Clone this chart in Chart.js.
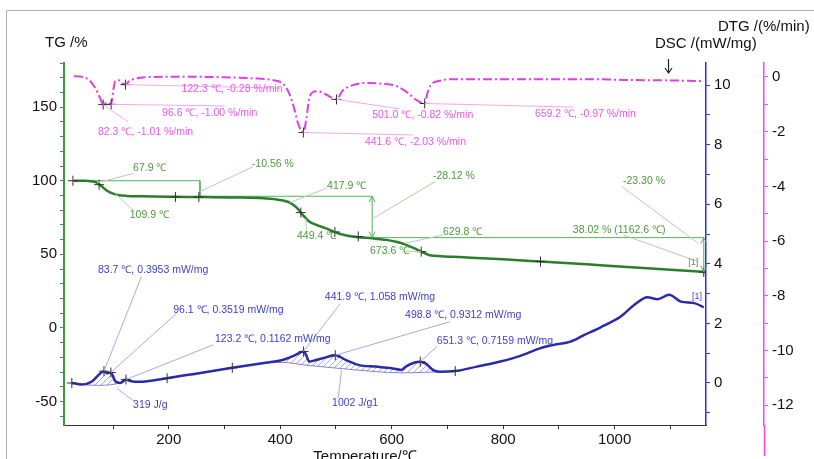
<!DOCTYPE html>
<html><head><meta charset="utf-8">
<script src="https://cdn.jsdelivr.net/npm/chart.js@4/dist/chart.umd.min.js"></script>
<style>html,body{margin:0;padding:0;background:#fff;}#wrap{width:814px;height:459px;position:relative;}</style>
</head><body><div id="wrap"><canvas id="c" width="814" height="459"></canvas></div>
<script>
// ---------- data ----------
const xTickLabels = [200, 400, 600, 800, 1000];
const tgTickLabels = [-50, 0, 50, 100, 150];
const dscTickLabels = [0, 2, 4, 6, 8, 10];
const dtgTickLabels = [0, -2, -4, -6, -8, -10, -12];

// DTG (%/min)
const dtgTemp = [30,44,56,68,77,82.3,89,96.6,100,104,110,116,122.3,128,140,160,206,296,360,386,405,416,425,432,441.6,447,452,458,467,482,501,512,530,554,584,608,629,644,659.2,664,670,686,717,837,957,1017,1077,1160];
const dtgRate = [0.03,0.01,-0.1,-0.4,-0.78,-1.01,-0.93,-1.00,-0.55,-0.15,-0.12,-0.22,-0.28,-0.17,-0.06,-0.01,0.01,-0.01,-0.06,-0.11,-0.25,-0.6,-1.15,-1.7,-2.03,-1.5,-0.8,-0.56,-0.52,-0.64,-0.82,-0.5,-0.3,-0.22,-0.25,-0.33,-0.58,-0.84,-0.97,-0.6,-0.3,-0.14,-0.08,-0.08,-0.08,-0.11,-0.12,-0.15];

// TG (%)
const tgTemp = [30,50,62,70,80,90,100,110,125,150,200,260,330,370,390,405,418,430,440,452,465,482,506,536,565,590,610,625,640,653,668,690,722,800,867,950,1023,1100,1162.6];
const tgMass = [100,99.9,99.5,98.8,96.0,93.0,91.2,90.2,89.7,89.4,89.1,88.9,88.6,88.1,87.5,86.6,85.0,81.5,77.0,72.3,70.0,67.6,64.0,61.8,60.9,59.8,58.3,56.6,54.2,51.8,49.4,48.7,48.1,46.6,45.1,43.2,41.3,39.5,38.02];

// DSC (mW/mg)
const dscTemp = [26,44,62,77,83.7,90,96.1,104,113,123.2,131,146,197,254,314,374,404,425,441.9,446,452,464,482,498.8,518,542,572,602,617,626,640,651.3,662,674,686,714,753,795,831,867,891,921,945,975,1011,1035,1059,1077,1098,1119,1143,1160];
const dscVal = [0.0,-0.05,0.05,0.32,0.3953,0.33,0.352,0.06,0.0,0.116,0.07,0.04,0.16,0.33,0.51,0.68,0.77,0.92,1.058,0.96,0.72,0.77,0.86,0.931,0.77,0.6,0.55,0.49,0.44,0.56,0.68,0.716,0.64,0.44,0.38,0.4,0.55,0.72,0.91,1.17,1.28,1.39,1.61,1.87,2.23,2.62,2.88,2.81,2.96,2.73,2.68,2.54];

// DSC integration baselines
const base1Temp = [26,50,75,95,110,123];
const base1Val = [0.0,-0.06,-0.08,-0.06,-0.01,0.08];
const base2Temp = [374,404,446,506,572,620,662,690,714];
const base2Val = [0.68,0.69,0.6,0.49,0.38,0.34,0.36,0.37,0.4];

// TG step evaluation
const tgStepTemp = [28,256,256,565];
const tgStepMass = [100,100,89.44,89.44];
const tgStep2Temp = [565,1160];
const tgStep2Mass = [61.32,61.32];

// evaluation markers
const dtgMarkT = [82.3,96.6,122.3,441.6,501.0,659.2];
const dtgMarkV = [-1.01,-1.00,-0.28,-2.03,-0.82,-0.97];
const tgMarkT = [28,75,212,254,437,498,540,653,867,1160];
const tgMarkV = [100,97.3,89.0,88.9,78.3,65.2,62.1,51.8,45.1,38.02];
const dscMarkT = [26,83.7,96.1,123.2,197,314,441.9,498.8,651.3,714];
const dscMarkV = [0.0,0.3953,0.352,0.116,0.16,0.51,1.058,0.931,0.716,0.4];

// ---------- annotation layout (data coords of the relevant axis) ----------
const annotations = [
  {axis:'yDTG', kind:'dtg', text:'122.3 ℃, -0.28 %/min', pt:[122.3,-0.28], lead:[400,-0.41], txt:[223,-0.45]},
  {axis:'yDTG', kind:'dtg', text:'96.6 ℃, -1.00 %/min', pt:[96.6,-1.00], lead:[300,-1.06], txt:[188,-1.32]},
  {axis:'yDTG', kind:'dtg', text:'82.3 ℃, -1.01 %/min', pt:[82.3,-1.01], lead:[127,-1.64], txt:[73,-2.01]},
  {axis:'yDTG', kind:'dtg', text:'441.6 ℃, -2.03 %/min', pt:[441.6,-2.03], lead:[638,-2.12], txt:[552,-2.38]},
  {axis:'yDTG', kind:'dtg', text:'501.0 ℃, -0.82 %/min', pt:[501.0,-0.82], lead:[615,-1.17], txt:[565,-1.39]},
  {axis:'yDTG', kind:'dtg', text:'659.2 ℃, -0.97 %/min', pt:[659.2,-0.97], lead:[925,-1.10], txt:[857,-1.35]},
  {axis:'yTG', kind:'tg', text:'67.9 ℃', pt:[72,98.5], lead:[136,105], txt:[136,108.5]},
  {axis:'yTG', kind:'tg', text:'-10.56 %', pt:[256,92.6], lead:[351,109.5], txt:[349,111.4]},
  {axis:'yTG', kind:'tg', text:'109.9 ℃', pt:[104,91.3], lead:[136,80], txt:[130,76.7]},
  {axis:'yTG', kind:'tg', text:'417.9 ℃', pt:[417.5,85.2], lead:[483,94.9], txt:[484,96.4]},
  {axis:'yTG', kind:'tg', text:'449.4 ℃', pt:[446,74.5], lead:[447,65.4], txt:[430,62.4]},
  {axis:'yTG', kind:'tg', text:'-28.12 %', pt:[567,74.5], lead:[678,99.4], txt:[674,103.2]},
  {axis:'yTG', kind:'tg', text:'629.8 ℃', pt:[624,57.5], lead:[692,63.1], txt:[692,65.4]},
  {axis:'yTG', kind:'tg', text:'673.6 ℃', pt:[653,51.8], lead:[622,52.2], txt:[561,52.5]},
  {axis:'yTG', kind:'tg', text:'-23.30 %', pt:[1150,57.5], lead:[1013,96], txt:[1015,100]},
  {axis:'yTG', kind:'tg', text:'38.02 % (1162.6 ℃)', pt:[1150,45], lead:[1016,63.1], txt:[925,66.1]},
  {axis:'yDSC', kind:'dsc', text:'83.7 ℃, 0.3953 mW/mg', pt:[83.7,0.3953], lead:[151,3.57], txt:[73,3.79]},
  {axis:'yDSC', kind:'dsc', text:'96.1 ℃, 0.3519 mW/mg', pt:[96.1,0.352], lead:[214,2.34], txt:[208,2.45]},
  {axis:'yDSC', kind:'dsc', text:'123.2 ℃, 0.1162 mW/mg', pt:[123.2,0.116], lead:[280,1.28], txt:[283,1.47]},
  {axis:'yDSC', kind:'dsc', text:'441.9 ℃, 1.058 mW/mg', pt:[441.9,1.058], lead:[507,2.65], txt:[480,2.89]},
  {axis:'yDSC', kind:'dsc', text:'498.8 ℃, 0.9312 mW/mg', pt:[498.8,0.931], lead:[705,2.06], txt:[624,2.28]},
  {axis:'yDSC', kind:'dsc', text:'651.3 ℃, 0.7159 mW/mg', pt:[651.3,0.716], lead:[681,1.22], txt:[681,1.39]},
  {axis:'yDSC', kind:'dsc', text:'319 J/g', pt:[107,-0.18], lead:[139,-0.63], txt:[136,-0.74]},
  {axis:'yDSC', kind:'dsc', text:'1002 J/g1', pt:[510,0.44], lead:[504,-0.51], txt:[493,-0.66]}
];
const smallLabels = [
  {axis:'yTG', kind:'tg', text:'[1]', txt:[1132,44.1]},
  {axis:'yDSC', kind:'dsc', text:'[1]', txt:[1139,2.89]}
];
const tgArrows = [[565,89.44,61.32],[1160,61.32,38.02]];

// ---------- styles ----------
const C = {
  dtg:'#e23fe2', tg:'#2c7d2c', dsc:'#2a2aaa',
  dtgText:'#ee55ee', tgText:'#4c9a3c', dscText:'#3d3dd2',
  dtgLead:'#f2a8f2', tgLead:'#b5cdb0', dscLead:'#a9a9e6',
  axG:'#3a9a3a', axB:'#2a2aff', axP:'#ff3cff'
};
const FONT = '"Liberation Sans", Arial, sans-serif';
function hasFont(name){
  const c=document.createElement('canvas').getContext('2d');
  c.font='40px monospace'; const w1=c.measureText('abcdefghijk 0123').width;
  c.font='40px "'+name+'", monospace'; return Math.abs(c.measureText('abcdefghijk 0123').width-w1)>0.5;
}
const ANNO_FONT = hasFont('Liberation Sans Narrow') ? '12px "Liberation Sans Narrow"' : '10.5px "Liberation Sans"';

const zip = (xs, ys) => xs.map((x,i)=>({x, y:ys[i]}));

const canvas = document.getElementById('c');
const cctx = canvas.getContext('2d');
const pc = document.createElement('canvas'); pc.width=6; pc.height=6;
const pctx = pc.getContext('2d');
pctx.strokeStyle='rgba(70,70,210,0.6)'; pctx.lineWidth=0.8;
pctx.beginPath(); pctx.moveTo(0,6); pctx.lineTo(6,0); pctx.moveTo(-1,1); pctx.lineTo(1,-1); pctx.moveTo(5,7); pctx.lineTo(7,5); pctx.stroke();
const hatch = cctx.createPattern(pc,'repeat');

function lineDs(data, axis, color, width, extra){
  return Object.assign({type:'line', data, yAxisID:axis, borderColor:color, borderWidth:width,
    pointRadius:0, fill:false, cubicInterpolationMode:'monotone'}, extra||{});
}
function markDs(data, axis){
  return {type:'line', data, yAxisID:axis, showLine:false, pointStyle:'cross', pointRadius:5,
    pointBorderColor:'#333', pointBorderWidth:1, borderColor:'#333', order:-1};
}

const deco = {
  id:'deco',
  afterDatasetsDraw(chart){
    const ctx = chart.ctx, xs = chart.scales.x;
    ctx.save();
    const yt = chart.scales.yTG;
    ctx.strokeStyle = '#58b058'; ctx.lineWidth=1;
    for (const [t,a,b] of tgArrows){
      const x = xs.getPixelForValue(t), y1=yt.getPixelForValue(a), y2=yt.getPixelForValue(b);
      ctx.beginPath(); ctx.moveTo(x,y1); ctx.lineTo(x,y2); ctx.stroke();
      for (const [yy,dir] of [[y1,1],[y2,-1]]){
        ctx.beginPath(); ctx.moveTo(x-3,yy+dir*6); ctx.lineTo(x,yy); ctx.lineTo(x+3,yy+dir*6); ctx.stroke();
      }
    }
    for (const a of annotations){
      const ys = chart.scales[a.axis];
      const px=xs.getPixelForValue(a.pt[0]), py=ys.getPixelForValue(a.pt[1]);
      const lx=xs.getPixelForValue(a.lead[0]), ly=ys.getPixelForValue(a.lead[1]);
      ctx.strokeStyle = C[a.kind+'Lead']; ctx.lineWidth=1;
      ctx.beginPath(); ctx.moveTo(px,py); ctx.lineTo(lx,ly); ctx.stroke();
    }
    ctx.textBaseline='middle'; ctx.textAlign='left';
    for (const a of annotations.concat(smallLabels)){
      const ys = chart.scales[a.axis];
      ctx.fillStyle = C[a.kind+'Text'];
      ctx.font = a.text==='[1]' ? '9px "Liberation Sans"' : ANNO_FONT;
      ctx.fillText(a.text, xs.getPixelForValue(a.txt[0]), ys.getPixelForValue(a.txt[1]));
    }
    ctx.restore();
  },
  afterDraw(chart){
    const ctx = chart.ctx, ca = chart.chartArea;
    ctx.save();
    ctx.strokeStyle='#b0b0b0'; ctx.lineWidth=1;
    ctx.beginPath(); ctx.moveTo(6.5,459); ctx.lineTo(6.5,10.5); ctx.lineTo(814,10.5); ctx.stroke();
    const px = chart.scales.yDTG.left + 0.5;
    ctx.strokeStyle=C.axP; ctx.lineWidth=1.5; ctx.beginPath(); ctx.moveTo(px,ca.bottom); ctx.lineTo(px,456); ctx.stroke();
    ctx.fillStyle='#111'; ctx.font='15px '+FONT; ctx.textBaseline='middle'; ctx.textAlign='left';
    ctx.fillText('TG /%', 45, 43);
    ctx.fillText('DTG /(%/min)', 718, 27);
    ctx.fillText('DSC /(mW/mg)', 655, 44);
    ctx.textAlign='center';
    ctx.fillText('Temperature/℃', 365, 457);
    // exo arrow
    ctx.strokeStyle='#222'; ctx.lineWidth=1.2;
    ctx.beginPath(); ctx.moveTo(668.5,59); ctx.lineTo(668.5,73); ctx.moveTo(665,68); ctx.lineTo(668.5,73); ctx.lineTo(672,68); ctx.stroke();
    ctx.restore();
  }
};

function fixW(w){ return s => { s.width = w; }; }
const yTickFont = {family:FONT, size:15};

new Chart(canvas, {
  data:{ datasets:[
    lineDs(zip(dtgTemp,dtgRate),'yDTG',C.dtg,2,{borderDash:[9,3,2,3], order:1}),
    lineDs(zip(tgTemp,tgMass),'yTG',C.tg,2.5,{order:1}),
    lineDs(zip(dscTemp,dscVal),'yDSC',C.dsc,2.5,{order:1}),
    lineDs(zip(base1Temp,base1Val),'yDSC','rgba(110,110,215,0.85)',1,{fill:{target:2}, backgroundColor:hatch, order:3}),
    lineDs(zip(base2Temp,base2Val),'yDSC','rgba(110,110,215,0.85)',1,{fill:{target:2}, backgroundColor:hatch, order:3}),
    lineDs(zip(tgStepTemp,tgStepMass),'yTG','#58b058',1,{cubicInterpolationMode:'default', tension:0, order:2}),
    lineDs(zip(tgStep2Temp,tgStep2Mass),'yTG','#58b058',1,{cubicInterpolationMode:'default', tension:0, order:2}),
    markDs(zip(dtgMarkT,dtgMarkV),'yDTG'),
    markDs(zip(tgMarkT,tgMarkV),'yTG'),
    markDs(zip(dscMarkT,dscMarkV),'yDSC')
  ]},
  options:{
    responsive:false, animation:false, devicePixelRatio:1,
    layout:{padding:{top:63,left:0,right:0,bottom:0}},
    plugins:{legend:{display:false}, tooltip:{enabled:false}},
    scales:{
      x:{type:'linear', position:'bottom', min:12, max:1164,
        afterFit:s=>{s.height=34;},
        border:{color:'#333', width:1},
        grid:{drawOnChartArea:false, drawTicks:true, tickLength:4, color:'#333'},
        ticks:{stepSize:100, autoSkip:false, maxRotation:0, includeBounds:false, padding:2,
          color:'#111', font:yTickFont,
          callback:v => xTickLabels.includes(v) ? String(v) : ''}},
      yTG:{type:'linear', position:'left', min:-66, max:180, afterFit:fixW(64),
        border:{color:C.axG, width:2},
        grid:{drawOnChartArea:false, tickLength:4, color:C.axG},
        ticks:{stepSize:10, autoSkip:false, includeBounds:false, padding:3, color:'#111', font:yTickFont,
          callback:v => tgTickLabels.includes(v) ? String(v) : ''}},
      yDSC:{type:'linear', position:'right', weight:1, min:-1.41, max:10.74, afterFit:fixW(58),
        border:{color:C.axB, width:1.5},
        grid:{drawOnChartArea:false, tickLength:4, color:C.axB},
        ticks:{stepSize:1, autoSkip:false, includeBounds:false, padding:4, color:'#111', font:yTickFont,
          callback:v => dscTickLabels.includes(v) ? String(v) : ''}},
      yDTG:{type:'linear', position:'right', weight:2, min:-12.72, max:0.51, afterFit:fixW(50),
        border:{color:C.axP, width:1.5},
        grid:{drawOnChartArea:false, tickLength:4, color:C.axP},
        ticks:{stepSize:1, autoSkip:false, includeBounds:false, padding:4, color:'#111', font:yTickFont,
          callback:v => dtgTickLabels.includes(v) ? String(v) : ''}}
    }
  },
  plugins:[deco]
});
</script>
</body></html>
